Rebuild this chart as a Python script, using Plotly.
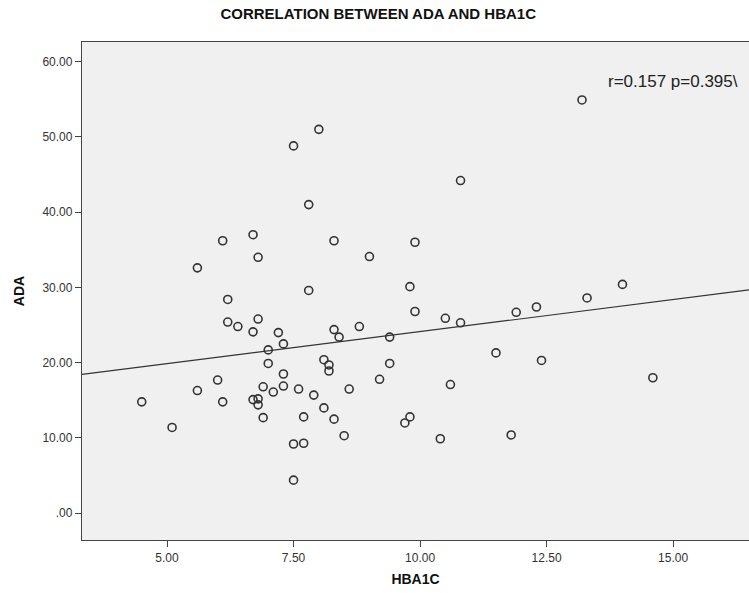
import plotly.graph_objects as go

# HBA1C (x) and ADA (y) values
hba1c = [4.5, 5.1, 5.6, 5.6, 6.0, 6.1, 6.1, 6.2, 6.2, 6.4,
         6.7, 6.7, 6.7, 6.8, 6.8, 6.8, 6.8, 6.9, 6.9, 7.0,
         7.0, 7.1, 7.2, 7.3, 7.3, 7.3, 7.5, 7.5, 7.5, 7.6,
         7.7, 7.7, 7.8, 7.8, 7.9, 8.0, 8.1, 8.1, 8.2, 8.2,
         8.3, 8.3, 8.3, 8.4, 8.5, 8.6, 8.8, 9.0, 9.2, 9.4,
         9.4, 9.7, 9.8, 9.8, 9.9, 9.9, 10.4, 10.5, 10.6, 10.8,
         10.8, 11.5, 11.8, 11.9, 12.3, 12.4, 13.2, 13.3, 14.0, 14.6]
ada = [14.8, 11.4, 32.6, 16.3, 17.7, 36.2, 14.8, 28.4, 25.4, 24.8,
       37.0, 24.1, 15.1, 34.0, 25.8, 15.2, 14.4, 16.8, 12.7, 21.7,
       19.9, 16.1, 24.0, 22.5, 18.5, 16.9, 48.8, 9.2, 4.4, 16.5,
       9.3, 12.8, 41.0, 29.6, 15.7, 51.0, 20.4, 14.0, 19.7, 18.9,
       36.2, 24.4, 12.5, 23.4, 10.3, 16.5, 24.8, 34.1, 17.8, 23.4,
       19.9, 12.0, 30.1, 12.8, 36.0, 26.8, 9.9, 25.9, 17.1, 44.2,
       25.3, 21.3, 10.4, 26.7, 27.4, 20.3, 54.9, 28.6, 30.4, 18.0]

# fit line
fit_intercept = 15.62
fit_slope = 0.851

x_range = [3.32, 16.5]
y_range = [-3.55, 62.6]
x_ticks = [5, 7.5, 10, 12.5, 15]
x_labels = ["5.00", "7.50", "10.00", "12.50", "15.00"]
y_ticks = [0, 10, 20, 30, 40, 50, 60]
y_labels = [".00", "10.00", "20.00", "30.00", "40.00", "50.00", "60.00"]

title_text = "CORRELATION BETWEEN ADA AND HBA1C"
annot_text = "r=0.157 p=0.395\\"

FONT = "Liberation Sans, Arial, sans-serif"

fig = go.Figure()
fig.add_trace(go.Scatter(
    x=x_range,
    y=[fit_intercept + fit_slope * v for v in x_range],
    mode="lines", line=dict(color="#333333", width=1.2),
    hoverinfo="skip", showlegend=False))
fig.add_trace(go.Scatter(
    x=hba1c, y=ada, mode="markers",
    marker=dict(symbol="circle-open", size=8, color="#333333",
                line=dict(width=1.6, color="#333333")),
    showlegend=False))

fig.add_annotation(x=13.68, y=57.4, xref="x", yref="y", text=annot_text,
                   showarrow=False, xanchor="left", yanchor="middle",
                   font=dict(family=FONT, size=17, color="#222222"))

fig.update_layout(
    width=749, height=593,
    margin=dict(l=82, r=0, t=42, b=53),
    paper_bgcolor="white", plot_bgcolor="#f0f0f0",
    title=dict(text="<b>" + title_text + "</b>", x=0.505, xanchor="center",
               y=0.977, yanchor="middle",
               font=dict(family="Liberation Sans Narrow, Arial Narrow, Liberation Sans",
                         size=15, color="#111111")),
    xaxis=dict(range=x_range, tickvals=x_ticks, ticktext=x_labels,
               showgrid=False, zeroline=False, showline=True, mirror=True,
               linecolor="#444444", linewidth=1.3,
               ticks="outside", ticklen=6, tickcolor="#444444",
               tickfont=dict(family=FONT, size=12, color="#333333"),
               title=dict(text="<b>HBA1C</b>", standoff=10,
                          font=dict(family=FONT, size=14, color="#111111"))),
    yaxis=dict(range=y_range, tickvals=y_ticks, ticktext=y_labels,
               showgrid=False, zeroline=False, showline=True, mirror=False,
               linecolor="#444444", linewidth=1.3,
               ticks="outside", ticklen=6, tickcolor="#444444",
               tickfont=dict(family=FONT, size=12, color="#333333"),
               title=dict(text="<b>ADA</b>", standoff=14,
                          font=dict(family=FONT, size=14, color="#111111"))),
)

fig.write_html("out.html")
